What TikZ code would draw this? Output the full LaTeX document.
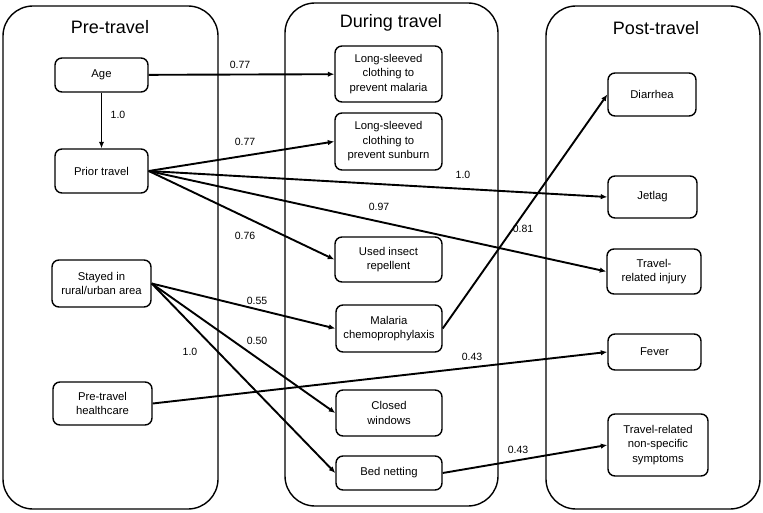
\documentclass[tikz,border=0pt]{standalone}
\usepackage{fontspec}
\setmainfont{Liberation Sans}
\usepackage{tikz}
\usetikzlibrary{arrows.meta,positioning}

\begin{document}
\begin{tikzpicture}[x=1pt,y=-1pt,
  panel/.style={line width=1.4pt, rounded corners=30pt},
  heading/.style={font=\fontsize{18}{20}\selectfont},
  box/.style={draw, line width=1.4pt, rounded corners=7pt, align=center,
    inner sep=0pt, font=\fontsize{11.3}{14.5}\selectfont},
  boxsize/.style 2 args={minimum width=#1pt, minimum height=#2pt},
  weight/.style={font=\fontsize{10.5}{12}\selectfont},
  arr/.style={line width=1.9pt, -{Latex[length=6.5pt,width=5.5pt]}}]
\useasboundingbox (0,0) rectangle (763,513);

% the three phases
\draw[panel] (3,6) rectangle (218,509);
\draw[panel] (285,3) rectangle (498,506);
\draw[panel] (546,6) rectangle (760,509);
\node[heading] (pre) at (110,27) {Pre-travel};
\node[heading] (during) at (391,23) {During travel};
\node[heading] (post) at (656,28) {Post-travel};

% pre-travel
\node[box, boxsize={93}{34}] (age) at (101.5,75) {Age};
\node[box, boxsize={93}{44}] (prior) at (101.5,171) {Prior travel};
\node[box, boxsize={99}{47}] (stayed) at (101.5,283.5) {Stayed in\\rural/urban area};
\node[box, boxsize={99}{43}] (health) at (102.5,403.5) {Pre-travel\\healthcare};

% during travel
\node[box, boxsize={107}{56}] (lsmalaria) at (388.5,74) {Long-sleeved\\clothing to\\prevent malaria};
\node[box, boxsize={107}{57}] (lssunburn) at (388.5,141.5) {Long-sleeved\\clothing to\\prevent sunburn};
\node[box, boxsize={107}{45}] (insect) at (388.5,259.5) {Used insect\\repellent};
\node[box, boxsize={106}{47}] (chemo) at (389,328.5) {Malaria\\chemoprophylaxis};
\node[box, boxsize={106}{46}] (windows) at (389,413) {Closed\\windows};
\node[box, boxsize={106}{34}] (netting) at (389,473) {Bed netting};

% post-travel
\node[box, boxsize={88}{43}] (diarrhea) at (652,94.5) {Diarrhea};
\node[box, boxsize={89}{42}] (jetlag) at (652.5,197) {Jetlag};
\node[box, boxsize={94}{45}] (injury) at (654,271.5) {Travel-\\related injury};
\node[box, boxsize={93}{36}] (fever) at (654.5,352) {Fever};
\node[box, boxsize={100}{62}] (symptoms) at (658,445) {Travel-related\\non-specific\\symptoms};

% paths
\draw[arr] (age) -- (lsmalaria);
\draw[arr] (age) -- (prior);
\draw[arr] (prior.east) -- (lssunburn.west);
\draw[arr] (prior.east) -- (jetlag.west);
\draw[arr] (prior.east) -- (injury.west);
\draw[arr] (prior.east) -- (insect.west);
\draw[arr] (stayed.east) -- (chemo.west);
\draw[arr] (stayed.east) -- (windows.west);
\draw[arr] (stayed.east) -- (netting.west);
\draw[arr] (chemo.east) -- (diarrhea.west);
\draw[arr] (health.east) -- (fever.west);
\draw[arr] (netting.east) -- (symptoms.west);

% weights
\node[weight] (w1) at (240,65) {0.77};
\node[weight] (w2) at (118,115) {1.0};
\node[weight] (w3) at (245,142) {0.77};
\node[weight] (w4) at (463,175) {1.0};
\node[weight] (w5) at (379,207) {0.97};
\node[weight] (w6) at (245,236) {0.76};
\node[weight] (w7) at (523,229) {0.81};
\node[weight] (w8) at (257,301) {0.55};
\node[weight] (w9) at (257,341) {0.50};
\node[weight] (w10) at (190,352) {1.0};
\node[weight] (w11) at (472,357) {0.43};
\node[weight] (w12) at (518,450) {0.43};
\end{tikzpicture}
\end{document}
